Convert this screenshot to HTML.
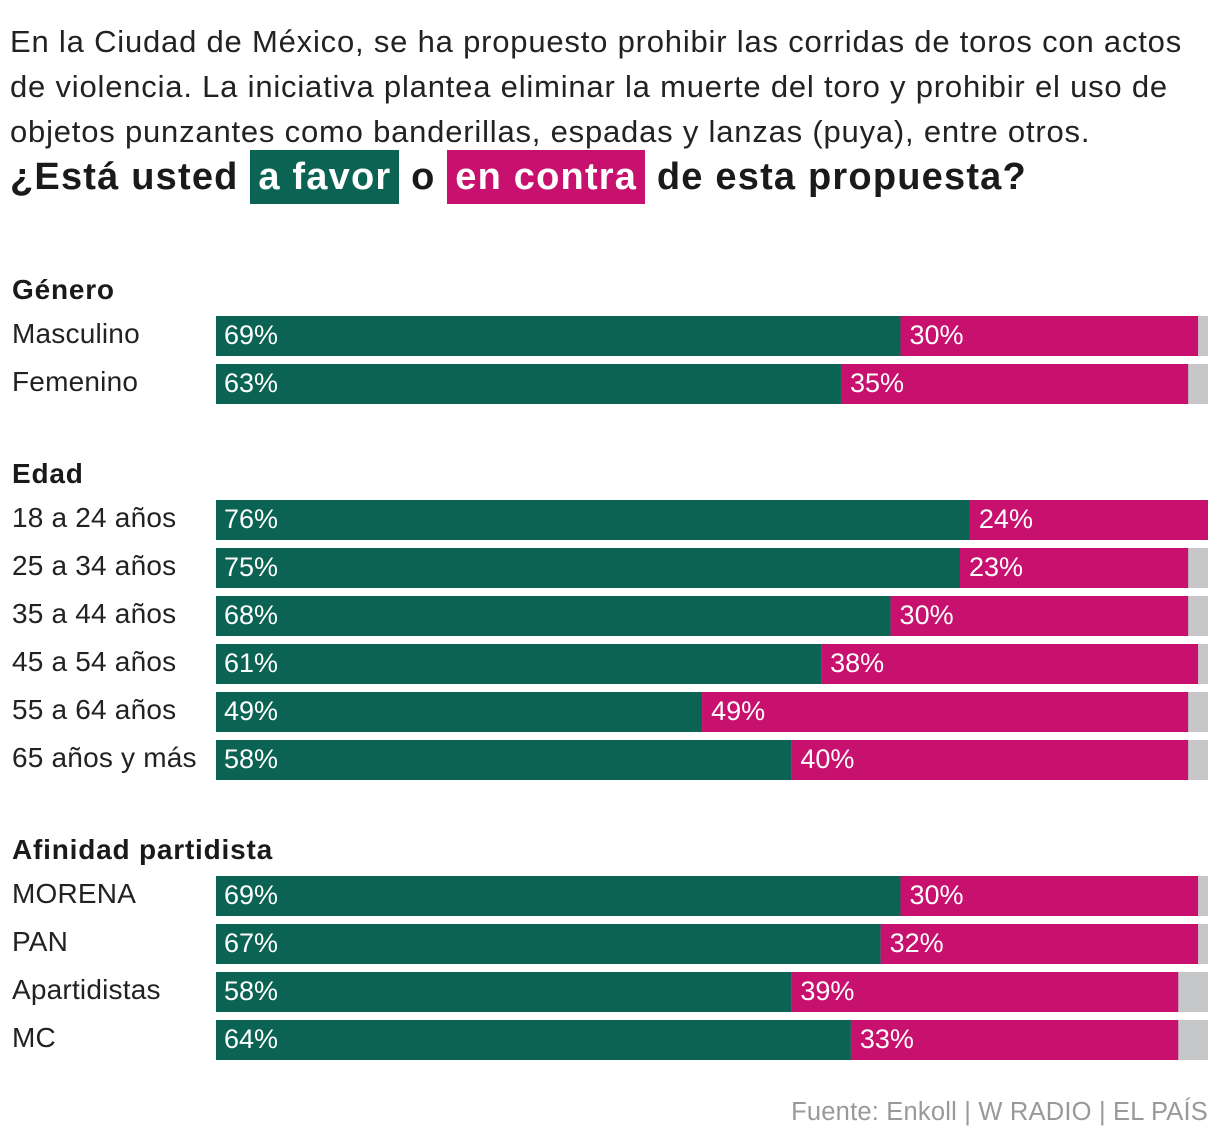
<!DOCTYPE html>
<html><head><meta charset="utf-8">
<style>
body{margin:0;background:#fff;font-family:"Liberation Sans",sans-serif;color:#1a1a1a;width:1220px;height:1144px;overflow:hidden;position:relative}
.intro{position:absolute;left:10px;top:19px;width:1210px;font-size:31px;letter-spacing:0.8px;line-height:45px;color:#222;white-space:nowrap}
.q{position:absolute;left:10px;top:150px;font-size:38px;font-weight:bold;white-space:nowrap;letter-spacing:1.2px;line-height:54px}
.q span{color:#fff;padding:0 8px;display:inline-block;line-height:54px}
.sec{position:absolute;left:12px;font-size:28px;font-weight:bold;letter-spacing:0.8px}
.lab{position:absolute;left:12px;font-size:28px;color:#222;letter-spacing:0.2px}
.src{position:absolute;right:12px;top:1098px;font-size:25.5px;color:#999;letter-spacing:0.2px}
svg{position:absolute;left:0;top:0}
</style></head><body>
<div class="intro">En la Ciudad de México, se ha propuesto prohibir las corridas de toros con actos<br>de violencia. La iniciativa plantea eliminar la muerte del toro y prohibir el uso de<br>objetos punzantes como banderillas, espadas y lanzas (puya), entre otros.</div>
<div class="q">¿Está usted <span style="background:#0b6353">a favor</span> o <span style="background:#c8106e">en contra</span> de esta propuesta?</div>
<div class="src">Fuente: Enkoll | W RADIO | EL PAÍS</div>
<svg id="chart" width="1220" height="1144"></svg>
<script>
const sections=["Género","Edad","Afinidad partidista"];
const sectionY=[290,474,850];
const categories=["Masculino","Femenino","18 a 24 años","25 a 34 años","35 a 44 años","45 a 54 años","55 a 64 años","65 años y más","MORENA","PAN","Apartidistas","MC"];
const rowY=[316,364,500,548,596,644,692,740,876,924,972,1020];
const favor=[69,63,76,75,68,61,49,58,69,67,58,64];
const contra=[30,35,24,23,30,38,49,40,30,32,39,33];
const x0=216,W=992,H=40;
const xs=v=>v/100*W;
const svg=document.getElementById('chart');
const NS='http://www.w3.org/2000/svg';
sections.forEach((s,i)=>{
  const d=document.createElement('div');d.className='sec';d.style.top=(sectionY[i]-16)+'px';d.textContent=s;
  
  
  document.body.appendChild(d);
});
categories.forEach((c,i)=>{
  const y=rowY[i];
  const l=document.createElement('div');l.className='lab';l.style.top=(y+2)+'px';l.textContent=c;
  
  
  document.body.appendChild(l);
  const bg=document.createElementNS(NS,'rect');
  bg.setAttribute('x',x0);bg.setAttribute('y',y);bg.setAttribute('width',W);bg.setAttribute('height',H);bg.setAttribute('fill','#c5c7c9');
  
  
  svg.appendChild(bg);
  const f=document.createElementNS(NS,'rect');
  f.setAttribute('x',x0);f.setAttribute('y',y);f.setAttribute('width',xs(favor[i]));f.setAttribute('height',H);f.setAttribute('fill','#0b6353');
  
  
  svg.appendChild(f);
  const k=document.createElementNS(NS,'rect');
  k.setAttribute('x',x0+xs(favor[i]));k.setAttribute('y',y);k.setAttribute('width',xs(contra[i]));k.setAttribute('height',H);k.setAttribute('fill','#c8106e');
  
  
  svg.appendChild(k);
  [[x0+8,favor[i]],[x0+xs(favor[i])+9,contra[i]]].forEach(([tx,v])=>{
    const t=document.createElementNS(NS,'text');
    t.setAttribute('x',tx);t.setAttribute('y',y+28);t.setAttribute('fill','#fff');
    t.setAttribute('font-size','27');t.setAttribute('font-family','Liberation Sans, sans-serif');
    t.textContent=v+'%';
    
    
    svg.appendChild(t);
  });
});
</script>
</body></html>
